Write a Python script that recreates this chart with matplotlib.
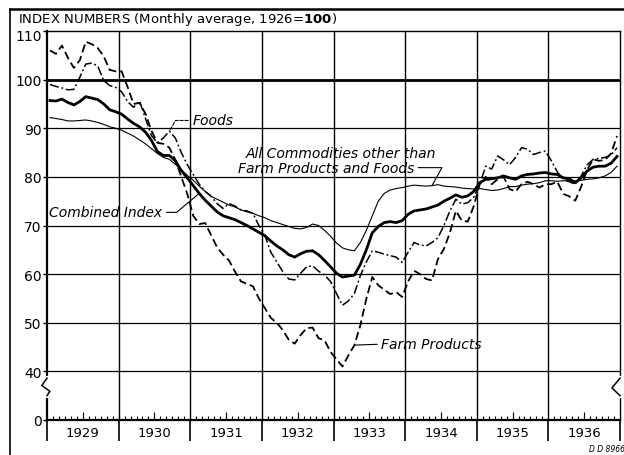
import matplotlib
matplotlib.use("Agg")
import matplotlib.pyplot as plt
import matplotlib.transforms as mtransforms
from matplotlib.lines import Line2D
import numpy as np

# Wholesale price index numbers, monthly, Jan 1929 - Dec 1936 (1926 = 100)
YEARS = list(range(1929, 1937))
Y_TICKS = [30, 40, 50, 60, 70, 80, 90, 100, 110]
Y_LABELS = ["0", "40", "50", "60", "70", "80", "90", "100", "110"]

combined = [
    95.7, 95.6, 96.0, 95.3, 94.8, 95.5, 96.5, 96.2, 95.9, 95.0, 93.8, 93.4,  # 1929
    92.9, 91.9, 91.0, 90.3, 89.2, 87.5, 85.2, 84.4, 84.4, 83.3, 81.3, 79.8,  # 1930
    78.2, 76.6, 75.2, 74.0, 72.8, 72.0, 71.6, 71.2, 70.6, 70.0, 69.3, 68.6,  # 1931
    67.9, 66.8, 65.8, 65.0, 64.0, 63.5, 64.2, 64.7, 64.8, 64.0, 62.8, 61.5,  # 1932
    60.2, 59.4, 59.6, 59.8, 62.0, 65.0, 68.5, 69.8, 70.6, 70.8, 70.6, 71.0,  # 1933
    72.3, 73.0, 73.2, 73.4, 73.8, 74.2, 75.0, 75.6, 76.3, 75.8, 76.1, 77.0,  # 1934
    78.8, 79.5, 79.6, 79.8, 80.2, 79.8, 79.5, 80.2, 80.5, 80.6, 80.8, 80.9,  # 1935
    80.6, 80.5, 79.8, 79.6, 78.8, 79.8, 81.2, 82.0, 82.2, 82.2, 82.8, 84.2,  # 1936
]
farm_products = [
    106.0, 105.3, 107.0, 104.5, 102.4, 104.0, 107.8, 107.3, 106.5, 104.8, 102.0, 101.7,
    101.7, 98.5, 95.0, 95.2, 93.0, 89.5, 87.0, 86.8, 86.0, 83.5, 80.0, 76.5,
    72.0, 70.3, 70.5, 68.0, 65.5, 64.0, 62.8, 60.5, 58.5, 58.0, 57.5, 55.0,
    53.0, 51.0, 50.0, 48.5, 46.5, 45.7, 47.5, 48.9, 49.0, 46.8, 46.4, 44.0,
    42.5, 41.0, 43.3, 45.4, 49.5, 54.9, 59.4, 57.7, 56.8, 55.9, 56.3, 55.3,
    58.5, 60.7, 60.0, 59.0, 58.7, 63.1, 65.2, 68.5, 73.0, 71.0, 70.8, 74.0,
    78.5, 80.0, 78.5, 79.5, 80.0, 77.5, 77.0, 78.5, 79.0, 78.5, 77.8, 78.5,
    78.5, 79.0, 76.5, 76.0, 75.1, 78.0, 81.5, 83.6, 83.3, 83.5, 84.8, 88.4,
]
foods = [
    99.0, 98.6, 98.3, 97.9, 98.0, 100.5, 103.2, 103.4, 102.8, 99.8, 98.8, 98.4,
    97.5, 95.5, 94.3, 95.6, 92.0, 88.5, 87.0, 88.0, 89.4, 88.0, 85.0, 82.5,
    80.5, 78.5, 77.0, 76.0, 74.5, 73.5, 74.5, 74.0, 73.2, 73.0, 72.5, 70.0,
    68.0, 64.5, 62.5, 60.5, 59.0, 58.8, 60.2, 61.5, 61.7, 60.6, 59.8, 58.5,
    56.0, 53.6, 54.5, 56.0, 59.7, 62.5, 64.8, 64.5, 64.1, 63.8, 63.5, 62.4,
    64.5, 66.5, 66.0, 65.8, 66.5, 67.5, 70.0, 73.0, 75.4, 74.4, 74.7, 75.8,
    78.5, 82.2, 81.6, 84.3, 83.5, 82.5, 84.0, 86.0, 85.7, 84.6, 85.0, 85.3,
    83.3, 81.0, 79.5, 79.0, 78.5, 80.2, 82.5, 83.6, 83.8, 84.0, 84.5, 86.0,
]
other_commodities = [
    92.2, 92.0, 91.8, 91.5, 91.5, 91.6, 91.7, 91.5, 91.2, 90.8, 90.3, 90.0,
    89.6, 89.0, 88.4, 87.6, 86.8, 85.8, 84.8, 84.0, 83.6, 82.6, 81.5, 80.3,
    79.3, 78.1, 77.0, 76.0, 75.4, 74.8, 74.2, 73.8, 73.2, 72.8, 72.5, 72.0,
    71.6, 71.0, 70.6, 70.2, 69.8, 69.4, 69.3, 69.6, 70.3, 70.0, 69.0, 67.8,
    66.4, 65.4, 65.0, 64.8, 66.5, 69.0, 72.0, 75.0, 76.6, 77.3, 77.6, 77.8,
    78.1, 78.3, 78.2, 78.1, 78.2, 78.4, 78.1, 78.0, 77.9, 77.7, 77.6, 77.5,
    77.6, 77.4, 77.2, 77.3, 77.6, 78.0, 78.0, 78.3, 78.5, 78.6, 78.8, 79.2,
    79.2, 79.1, 79.2, 79.2, 79.2, 79.3, 79.5, 79.6, 79.8, 80.2, 80.9, 82.2,
]

W, H = 624, 456
fig = plt.figure(figsize=(W / 100, H / 100), dpi=100)
ax = fig.add_axes([47 / W, 35 / H, 573 / W, 389 / H])

x = YEARS[0] + (np.arange(len(combined)) + 0.5) / 12

ax.plot(x, farm_products, color="black", lw=1.3, ls=(0, (4.5, 2.2)), zorder=4)
ax.plot(x, foods, color="black", lw=1.1, ls=(0, (6, 1.8, 1.2, 1.8)), zorder=4)
ax.plot(x, other_commodities, color="black", lw=0.8, zorder=4)
ax.plot(x, combined, color="black", lw=2.0, zorder=5)

ax.set_xlim(YEARS[0], YEARS[-1] + 1)
ax.set_ylim(30, 110)

# grid
for v in Y_TICKS[1:-1]:
    ax.axhline(v, color="black", lw=2.0 if v == 100 else 0.9, zorder=2)
for yr in YEARS[1:]:
    ax.axvline(yr, color="black", lw=1.0, zorder=2)

for side in ("left", "bottom"):
    ax.spines[side].set_linewidth(1.6)
ax.spines["top"].set_linewidth(1.0)
ax.spines["right"].set_linewidth(1.0)

ax.set_yticks(Y_TICKS)
ax.set_yticklabels(Y_LABELS, fontsize=10)
ax.tick_params(axis="y", length=3, width=1, pad=1)
# the top label sits a little under the frame line, clear of the heading
top_lab = ax.get_yticklabels()[-1]
top_lab.set_transform(top_lab.get_transform()
                      + mtransforms.ScaledTranslation(0, -4 / 100, fig.dpi_scale_trans))

ax.set_xticks(YEARS + [YEARS[-1] + 1])
ax.set_xticklabels([])
ax.tick_params(axis="x", which="major", direction="out", length=15, width=1.2)
ax.set_xticks(np.arange(YEARS[0], YEARS[-1] + 1, 1 / 12), minor=True)
ax.tick_params(axis="x", which="minor", direction="in", length=2.8, width=0.8)
ax.vlines([yr + 0.5 for yr in YEARS], 30, 31.6, color="black", lw=0.8)

for yr in YEARS:
    ax.text(yr + 0.5, -0.032, str(yr), transform=ax.get_xaxis_transform(),
            ha="center", va="center", fontsize=9.5)

# scale break marks
ytr = ax.get_yaxis_transform()
for xa, pts in ((0.0, [0, -0.009, 0.005, 0]), (1.0, [0, -0.014, 0])):
    ys = [38.6, 37.1, 35.9, 35.0] if len(pts) == 4 else [38.6, 36.6, 35.0]
    ax.plot([xa, xa], [ys[0], ys[-1]], color="white", lw=3, transform=ytr,
            clip_on=False, zorder=6)
    ax.plot([xa + p for p in pts], ys, color="black", lw=1.1, transform=ytr,
            clip_on=False, zorder=7)

# labels
lab = dict(fontsize=10, style="italic", color="black", zorder=8)
arrow = dict(arrowstyle="-", lw=0.8, color="black", shrinkA=1, shrinkB=0)

ax.annotate("Foods", xy=(x[20], foods[20]), xytext=(1931.03, 91.6),
            va="center", ha="left",
            arrowprops=dict(arrow, relpos=(0, 0.5), ls=(0, (3, 1.5)),
                            connectionstyle="angle,angleA=0,angleB=60,rad=0"), **lab)
ax.text(1931.77, 85.0, "All Commodities other than", va="center", ha="left", **lab)
ax.annotate("Farm Products and Foods", xy=(x[64], other_commodities[64]),
            xytext=(1931.66, 81.9), va="center", ha="left",
            arrowprops=dict(arrow, relpos=(1, 0.5),
                            connectionstyle="angle,angleA=0,angleB=61,rad=0"), **lab)
ax.annotate("Combined Index", xy=(x[25], combined[25]), xytext=(1930.61, 72.7),
            va="center", ha="right",
            arrowprops=dict(arrow, relpos=(1, 0.5),
                            connectionstyle="angle,angleA=0,angleB=40,rad=0"), **lab)
ax.annotate("Farm Products", xy=(x[51], farm_products[51]), xytext=(1933.67, 45.6),
            va="center", ha="left",
            arrowprops=dict(arrow, relpos=(0, 0.5)), **lab)

fig.text(18 / W, 1 - 20 / H, r"INDEX NUMBERS (Monthly average, 1926=$\mathbf{100}$)",
         fontsize=9.5, va="center", ha="left")
fig.text(589 / W, 1 - 450 / H, "D D 8966", fontsize=5.5, style="italic", va="center")

# page frame
fig.add_artist(Line2D([10 / W, 10 / W], [0, 1 - 10 / H], color="black", lw=1.2,
                      transform=fig.transFigure))
fig.add_artist(Line2D([10 / W, 1], [1 - 10 / H, 1 - 10 / H], color="black", lw=1.8,
                      transform=fig.transFigure))

fig.savefig("out.png", dpi=100)
